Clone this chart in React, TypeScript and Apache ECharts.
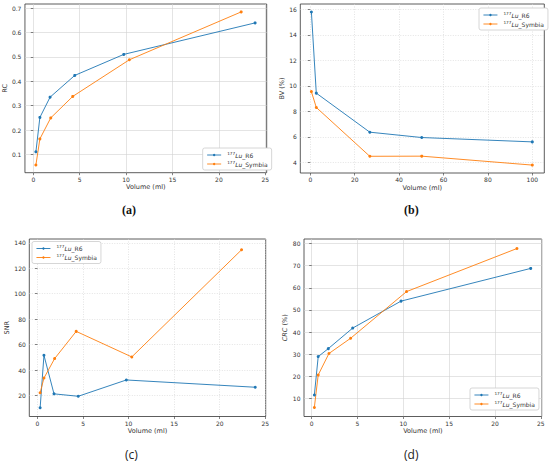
import React, { useEffect, useRef } from "react";
import * as echarts from "echarts";

// Panel (a) RC
const aR6X = [0.28, 0.71, 1.81, 4.47, 9.75, 23.9];
const aR6Y = [0.111, 0.252, 0.335, 0.424, 0.51, 0.639];
const aSyX = [0.28, 0.71, 1.88, 4.25, 10.35, 22.4];
const aSyY = [0.057, 0.164, 0.25, 0.338, 0.488, 0.684];
// Panel (b) BV (%)
const bR6X = [0.5, 2.7, 26.8, 50.2, 100];
const bR6Y = [15.79, 9.43, 6.37, 5.95, 5.61];
const bSyX = [0.5, 2.7, 26.8, 50.2, 100];
const bSyY = [9.55, 8.31, 4.48, 4.49, 3.79];
// Panel (c) SNR
const cR6X = [0.29, 0.71, 1.81, 4.47, 9.75, 23.9];
const cR6Y = [10.4, 51.6, 21.3, 19.4, 32.2, 26.5];
const cSyX = [0.29, 0.71, 1.88, 4.25, 10.35, 22.4];
const cSyY = [22.2, 33.7, 49.0, 70.4, 50.3, 134.5];
// Panel (d) CRC (%)
const dR6X = [0.29, 0.71, 1.81, 4.47, 9.75, 23.9];
const dR6Y = [11.5, 28.9, 32.5, 41.8, 54.0, 68.8];
const dSyX = [0.29, 0.71, 1.88, 4.25, 10.35, 22.4];
const dSyY = [5.9, 20.6, 30.3, 37.2, 58.3, 77.8];

const xTicksVol = [0, 5, 10, 15, 20, 25];
const xTicksB = [0, 20, 40, 60, 80, 100];
const yTicksA = [0.1, 0.2, 0.3, 0.4, 0.5, 0.6, 0.7];
const yTicksB = [4, 6, 8, 10, 12, 14, 16];
const yTicksC = [20, 40, 60, 80, 100, 120, 140];
const yTicksD = [10, 20, 30, 40, 50, 60, 70, 80];

const BLUE = "#1f77b4";
const ORANGE = "#ff7f0e";
const FONT = "DejaVu Sans";

const zip = (xs: number[], ys: number[]) => xs.map((x, i) => [x, ys[i]]);

export default function App() {
  const ref = useRef<HTMLDivElement>(null);
  useEffect(() => {
    if (!ref.current) return;
    const chart = echarts.init(ref.current, null, { renderer: "svg" });

    const grids = [
      { left: 23.3, top: 4, width: 243.4, height: 168.7 },
      { left: 300.3, top: 4, width: 244, height: 169 },
      { left: 29.3, top: 239, width: 236.4, height: 177.5 },
      { left: 304, top: 239, width: 237.7, height: 177.5 },
    ].map((g) => ({ ...g, show: true, borderColor: "#333", borderWidth: 0.8, backgroundColor: "transparent", containLabel: false }));

    const dotted = [1, 1.5];
    const gridLine = (dash: boolean) => ({
      show: true,
      lineStyle: { color: "#d2d2d2", width: 0.6, type: dash ? dotted : "solid" },
    });

    const xAxis = (gi: number, min: number, max: number, step: number, ticks: number[], dash: boolean) => ({
      type: "value",
      gridIndex: gi,
      min,
      max,
      minInterval: step,
      maxInterval: step,
      name: "Volume (ml)",
      nameLocation: "middle",
      nameGap: 11,
      nameTextStyle: { fontFamily: FONT, fontSize: 6.5, color: "#333" },
      axisLine: { show: false },
      axisTick: { show: true, length: 2.5, inside: false, lineStyle: { color: "#333", width: 0.6 }, customValues: ticks },
      axisLabel: { fontFamily: FONT, fontSize: 6, color: "#333", margin: 3.5, customValues: ticks },
      splitLine: gridLine(dash),
    });

    const yAxis = (gi: number, min: number, max: number, step: number, ticks: number[], dash: boolean, name: any, gap: number, rich?: any) => ({
      type: "value",
      gridIndex: gi,
      min,
      max,
      minInterval: step,
      maxInterval: step,
      name,
      nameLocation: "middle",
      nameGap: gap,
      nameRotate: 90,
      nameTextStyle: { fontFamily: FONT, fontSize: 6.5, color: "#333", rich },
      axisLine: { show: false },
      axisTick: { show: true, length: 2.5, inside: false, lineStyle: { color: "#333", width: 0.6 }, customValues: ticks },
      axisLabel: { fontFamily: FONT, fontSize: 6, color: "#333", margin: 3.5, customValues: ticks },
      splitLine: gridLine(dash),
    });

    const rich = {
      s: { fontSize: 4.2, fontFamily: FONT, color: "#333", verticalAlign: "top", lineHeight: 8 },
      i: { fontSize: 6, fontFamily: FONT, fontStyle: "italic", color: "#333", lineHeight: 8 },
      n: { fontSize: 6, fontFamily: FONT, color: "#333", lineHeight: 8 },
    };

    const legend = (pos: any) => ({
      ...pos,
      orient: "vertical",
      data: ["R6", "Symbia"],
      backgroundColor: "#fff",
      borderColor: "#ccc",
      borderWidth: 0.8,
      borderRadius: 2,
      padding: [3, 4, 3, 4],
      itemGap: 2,
      itemWidth: 14,
      itemHeight: 3,
      lineStyle: { width: 0.9 },
      itemStyle: { borderWidth: 0 },
      formatter: (n: string) => `{s|177}{i|Lu}{n|_${n}}`,
      textStyle: { rich, fontSize: 6, fontFamily: FONT, padding: [0, 0, 0, 1] },
    });

    const series = (gi: number, name: string, data: number[][], color: string) => ({
      type: "line",
      name,
      xAxisIndex: gi,
      yAxisIndex: gi,
      data,
      symbol: "circle",
      symbolSize: 3,
      itemStyle: { color },
      lineStyle: { color, width: 0.9 },
      emphasis: { disabled: true },
    });

    const capStyle = (bold: boolean) => ({
      font: `${bold ? "bold " : ""}12px "Liberation Serif"`,
      fill: "#111",
    });

    chart.setOption({
      animation: false,
      backgroundColor: "#fff",
      grid: grids,
      xAxis: [
        xAxis(0, -0.9, 25.15, 5, xTicksVol, false),
        xAxis(1, -4.5, 105.4, 20, xTicksB, true),
        xAxis(2, -0.9, 25.05, 5, xTicksVol, true),
        xAxis(3, -0.84, 25.1, 5, xTicksVol, false),
      ],
      yAxis: [
        yAxis(0, 0.0256, 0.7164, 0.1, yTicksA, false, "RC", 13),
        yAxis(1, 3.17, 16.42, 2, yTicksB, true, "BV (%)", 13),
        yAxis(2, 3.5, 143.0, 20, yTicksC, true, "SNR", 17),
        yAxis(3, 1.8, 82.1, 10, yTicksD, false, "{it|CRC} (%)", 15, {
          it: { fontStyle: "italic", fontFamily: FONT, fontSize: 6.5, color: "#333" },
        }),
      ],
      legend: [
        legend({ left: 202.7, top: 148 }),
        legend({ left: 479, top: 8 }),
        legend({ left: 32, top: 241.5 }),
        legend({ left: 470, top: 388 }),
      ],
      series: [
        series(0, "R6", zip(aR6X, aR6Y), BLUE),
        series(0, "Symbia", zip(aSyX, aSyY), ORANGE),
        series(1, "R6", zip(bR6X, bR6Y), BLUE),
        series(1, "Symbia", zip(bSyX, bSyY), ORANGE),
        series(2, "R6", zip(cR6X, cR6Y), BLUE),
        series(2, "Symbia", zip(cSyX, cSyY), ORANGE),
        series(3, "R6", zip(dR6X, dR6Y), BLUE),
        series(3, "Symbia", zip(dSyX, dSyY), ORANGE),
      ],
      graphic: [
        { type: "text", left: 122, top: 204, style: { text: "(a)", ...capStyle(true) } },
        { type: "text", left: 404, top: 204, style: { text: "(b)", ...capStyle(true) } },
        { type: "text", left: 125, top: 448, style: { text: "(c)", font: '12px "Open Sans"', fill: "#222" } },
        { type: "text", left: 404, top: 448, style: { text: "(d)", font: '12px "Open Sans"', fill: "#222" } },
      ],
    });
    return () => chart.dispose();
  }, []);
  return (
    <div
      ref={ref}
      style={{ position: "absolute", left: 0, top: 0, width: 550, height: 466 }}
    />
  );
}
